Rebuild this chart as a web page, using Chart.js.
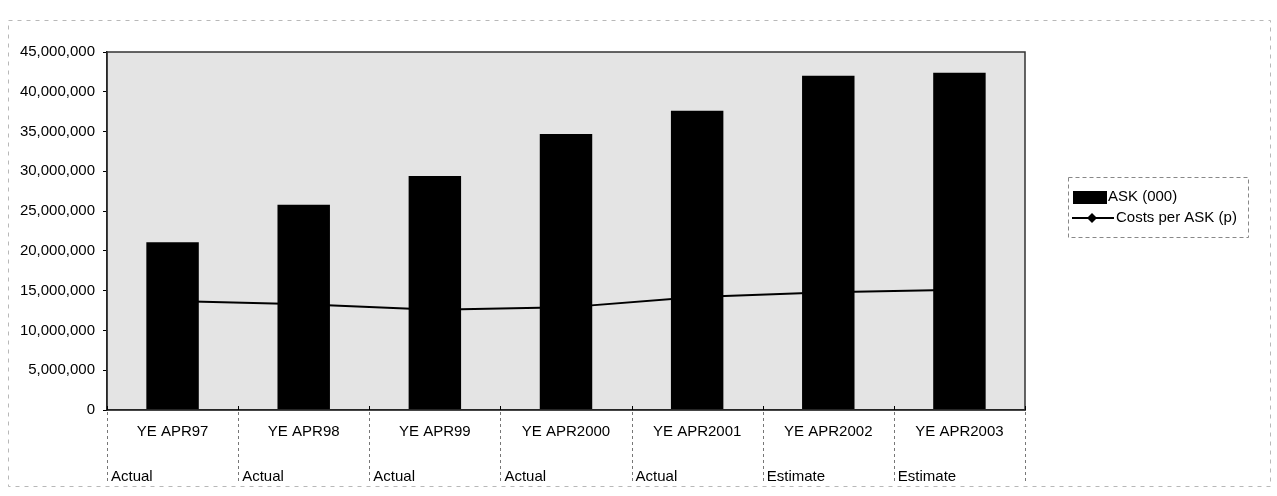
<!DOCTYPE html>
<html>
<head>
<meta charset="utf-8">
<script src="https://cdn.jsdelivr.net/npm/chart.js@4.4.1/dist/chart.umd.min.js"></script>
<style>
  html, body { margin: 0; padding: 0; background: #ffffff; overflow: hidden; }
  #wrap { width: 1277px; height: 496px; position: relative; }
</style>
</head>
<body>
<div id="wrap"><canvas id="c" width="1277" height="496"></canvas></div>
<script>
// Financial years shown on the category axis
const categories = ['YE APR97', 'YE APR98', 'YE APR99', 'YE APR2000', 'YE APR2001', 'YE APR2002', 'YE APR2003'];
// Second row of the category axis: whether the year is reported or forecast
const periodTypes = ['Actual', 'Actual', 'Actual', 'Actual', 'Actual', 'Estimate', 'Estimate'];
// Available seat kilometres (000)
const askValues = [21100000, 25800000, 29400000, 34700000, 37600000, 42000000, 42400000];
// Costs per ASK, plotted on the same value axis
const costValues = [13700000, 13300000, 12600000, 12900000, 14200000, 14800000, 15100000];
// Value axis tick labels
const yTickValues = [0, 5000000, 10000000, 15000000, 20000000, 25000000, 30000000, 35000000, 40000000, 45000000];

const seriesNames = ['ASK (000)', 'Costs per ASK (p)'];
const FONT = '"Liberation Sans", Arial, Helvetica, sans-serif';

// Plot background, plot border and the faint outer chart frame
const plotFrame = {
  id: 'plotFrame',
  beforeDraw(chart) {
    const { ctx, chartArea: a } = chart;
    ctx.save();
    ctx.fillStyle = '#e4e4e4';
    ctx.fillRect(a.left, a.top, a.right - a.left, a.bottom - a.top);
    ctx.strokeStyle = '#b8b8b8';
    ctx.lineWidth = 1;
    ctx.setLineDash([4, 5]);
    ctx.strokeRect(8.5, 20.5, 1262, 466);
    ctx.restore();
  },
  afterDatasetsDraw(chart) {
    const { ctx, chartArea: a } = chart;
    ctx.save();
    ctx.strokeStyle = '#333333';
    ctx.lineWidth = 1.5;
    ctx.strokeRect(a.left, a.top, a.right - a.left, a.bottom - a.top);
    ctx.restore();
  }
};

// Category separators below the axis, inside tick marks and the Actual/Estimate row
const categoryRows = {
  id: 'categoryRows',
  afterDraw(chart) {
    const { ctx, chartArea: a } = chart;
    const xs = chart.scales.x;
    const half = (xs.getPixelForValue(1) - xs.getPixelForValue(0)) / 2;
    ctx.save();
    for (let i = 0; i <= categories.length; i++) {
      const bx = Math.round(xs.getPixelForValue(Math.min(i, categories.length - 1)) + (i < categories.length ? -half : half)) + 0.5;
      ctx.strokeStyle = '#777777';
      ctx.lineWidth = 1;
      ctx.setLineDash([3, 3]);
      ctx.beginPath();
      ctx.moveTo(bx, a.bottom + 2);
      ctx.lineTo(bx, a.bottom + 74);
      ctx.stroke();
      ctx.setLineDash([]);
      ctx.strokeStyle = '#000000';
      ctx.beginPath();
      ctx.moveTo(bx, a.bottom);
      ctx.lineTo(bx, a.bottom - 4);
      ctx.stroke();
    }
    ctx.fillStyle = '#000000';
    ctx.font = '15px ' + FONT;
    ctx.textAlign = 'left';
    ctx.textBaseline = 'middle';
    periodTypes.forEach((t, i) => {
      const left = xs.getPixelForValue(i) - half;
      ctx.fillText(t, left + 4, 477);
    });
    ctx.restore();
  }
};

// Legend box on the right
const sideLegend = {
  id: 'sideLegend',
  afterDraw(chart) {
    const { ctx } = chart;
    const bar = chart.data.datasets[1];
    const line = chart.data.datasets[0];
    ctx.save();
    ctx.strokeStyle = '#888888';
    ctx.lineWidth = 1;
    ctx.setLineDash([4, 3]);
    ctx.strokeRect(1068.5, 177.5, 180, 60);
    ctx.setLineDash([]);
    ctx.fillStyle = bar.backgroundColor;
    ctx.fillRect(1073, 191, 34, 13);
    ctx.strokeStyle = line.borderColor;
    ctx.lineWidth = 2;
    ctx.beginPath();
    ctx.moveTo(1072, 218);
    ctx.lineTo(1114, 218);
    ctx.stroke();
    ctx.fillStyle = line.pointBackgroundColor;
    ctx.beginPath();
    ctx.moveTo(1092, 213);
    ctx.lineTo(1097, 218);
    ctx.lineTo(1092, 223);
    ctx.lineTo(1087, 218);
    ctx.closePath();
    ctx.fill();
    ctx.fillStyle = '#000000';
    ctx.font = '15px ' + FONT;
    ctx.textAlign = 'left';
    ctx.textBaseline = 'middle';
    ctx.fillText(bar.label, 1108, 197);
    ctx.fillText(line.label, 1116, 218);
    ctx.restore();
  }
};

new Chart(document.getElementById('c'), {
  data: {
    labels: categories,
    datasets: [
      {
        type: 'line',
        label: seriesNames[1],
        data: costValues,
        borderColor: '#000000',
        borderWidth: 2,
        pointStyle: 'rectRot',
        pointRadius: 5,
        pointBackgroundColor: '#000000',
        pointBorderColor: '#000000',
        tension: 0,
        order: 0
      },
      {
        type: 'bar',
        label: seriesNames[0],
        data: askValues,
        backgroundColor: '#000000',
        borderWidth: 0,
        barPercentage: 0.4,
        categoryPercentage: 1,
        order: 1
      }
    ]
  },
  options: {
    responsive: false,
    animation: false,
    devicePixelRatio: 1,
    layout: { padding: { top: 52, right: 252, bottom: 0, left: 0 } },
    plugins: { legend: { display: false }, tooltip: { enabled: false } },
    scales: {
      x: {
        type: 'category',
        offset: true,
        grid: { display: false, drawTicks: false },
        border: { display: true, color: '#000000', width: 1.5 },
        ticks: {
          font: { family: FONT, size: 15 },
          color: '#000000',
          padding: 13,
          maxRotation: 0,
          autoSkip: false
        },
        afterFit(s) { s.height = 86; }
      },
      y: {
        min: 0,
        max: 45000000,
        afterBuildTicks(s) { s.ticks = yTickValues.map(v => ({ value: v })); },
        ticks: {
          font: { family: FONT, size: 15 },
          color: '#000000',
          padding: 8,
          callback: v => Number(v).toLocaleString('en-US')
        },
        grid: { drawOnChartArea: false, drawTicks: true, tickLength: 4, color: '#000000' },
        border: { display: true, color: '#000000', width: 1.5 },
        afterFit(s) { s.width = 107; }
      }
    }
  },
  plugins: [plotFrame, categoryRows, sideLegend]
});
</script>
</body>
</html>
